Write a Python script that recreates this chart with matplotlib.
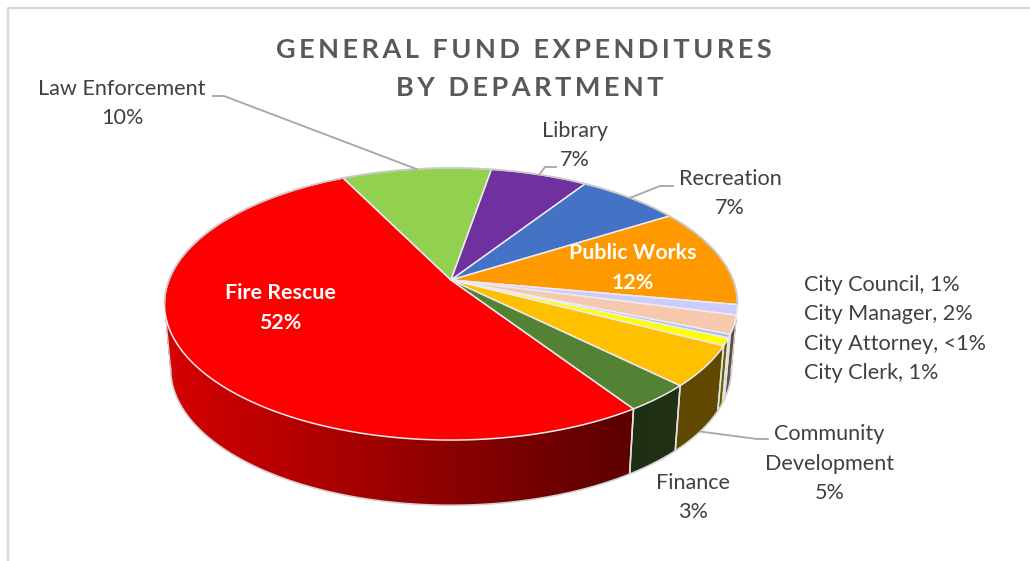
import numpy as np
import matplotlib
matplotlib.use("Agg")
import matplotlib.pyplot as plt
from matplotlib.patches import Polygon

plt.rcParams['font.family'] = ['Lato', 'DejaVu Sans']

# Department shares of general fund spending, in percent, clockwise from Fire Rescue
departments = ["Fire Rescue", "Law Enforcement", "Library", "Recreation", "Public Works",
               "City Council", "City Manager", "City Attorney", "City Clerk",
               "Community Development", "Finance"]
shares = [52.0, 10.0, 6.5, 6.9, 11.8, 1.2, 2.2, 0.4, 0.9, 4.8, 3.3]
share_labels = ["52%", "10%", "7%", "7%", "12%", "1%", "2%", "<1%", "1%", "5%", "3%"]
slice_colors = ["#FF0000", "#92D050", "#7030A0", "#4472C4", "#FF9900",
                "#CCCCFF", "#F6C9AE", "#9DC3E6", "#FFFF00", "#FFC000", "#548235"]

# Perspective model of the tilted disc, in pixels
CX, TOP_CY, BOT_CY = 451.0, 280.0, 345.0
TOP_A, TOP_B = 282.0, 131.8
BOT_A, BOT_B = 276.0, 132.0
TILT = 0.1765
START_DEG = 303.5
INK = "#404040"
LABEL_SIZE = 15.6


def rim(deg, a=TOP_A, b=TOP_B, cy=TOP_CY):
    t = np.radians(deg)
    w = 1 + TILT * np.sin(t)
    return CX + a * np.cos(t) / w, cy - b * np.sin(t) / w


def bottom_rim(deg):
    return rim(deg, BOT_A, BOT_B, BOT_CY)


def wall_shade(x):
    return np.interp(x, [170, 400, 630, 800], [0.83, 0.60, 0.36, 0.40])


fig = plt.figure(figsize=(10.3, 5.61), dpi=100)
ax = fig.add_axes([0, 0, 1, 1])
ax.set_xlim(0, 1030)
ax.set_ylim(561, 0)
ax.axis("off")

# Chart frame, whose right and bottom sides run off the canvas
ax.plot([7.5, 7.5, 1030], [561, 8, 8], color="#D9D9D9", lw=1.6, zorder=1)

# Slices advance clockwise, so the angle decreases from one edge to the next
edges = [float(e) for e in START_DEG - 360.0 * np.cumsum([0] + shares) / sum(shares)]

# Side wall: only the part facing the viewer, drawn as overlapping shaded strips
for color, a0, a1 in zip(slice_colors, edges[:-1], edges[1:]):
    base = np.array(matplotlib.colors.to_rgb(color))
    lo, hi = a1, a0
    if lo < 0:
        lo, hi = lo + 360, hi + 360
    lo, hi = max(lo, 185.0), min(hi, 355.0)
    if hi <= lo:
        continue
    steps = np.linspace(lo, hi, max(2, int((hi - lo) * 2) + 1))
    for s0, s1 in zip(steps[:-1], steps[1:]):
        s1x = min(s1 + 0.6, hi)
        x0, y0 = rim(s0)
        x1, y1 = rim(s1x)
        x3, y3 = bottom_rim(s0)
        x2, y2 = bottom_rim(s1x)
        shade = base * wall_shade((x0 + x1) / 2)
        ax.add_patch(Polygon([(x0, y0), (x1, y1), (x2, y2), (x3, y3)], closed=True,
                             facecolor=shade, edgecolor="none", zorder=2))
    for e in (lo, hi):
        if 192 < e < 345:
            x0, y0 = rim(e)
            x1, y1 = bottom_rim(e)
            ax.plot([x0, x1], [y0, y1], color="#E4E4E4", lw=1.1, zorder=3,
                    solid_capstyle="butt")

# Outer edge of the wall
wall_angles = np.linspace(190.2, 349.8, 200)
bx, by = bottom_rim(wall_angles)
ax.plot(bx, by, color="#D4D4D4", lw=1.2, zorder=3)
for deg in (190.2, 349.8):
    ax.plot(*zip(rim(deg), bottom_rim(deg)), color="#D4D4D4", lw=1.0, zorder=3)

# Top face of the pie
for color, a0, a1 in zip(slice_colors, edges[:-1], edges[1:]):
    ts = np.linspace(a0, a1, max(3, int(a0 - a1) * 2))
    xs, ys = rim(ts)
    pts = [(CX, TOP_CY)] + list(zip(xs, ys))
    ax.add_patch(Polygon(pts, closed=True, facecolor=color, edgecolor="#EDEAF2",
                         lw=1.1, joinstyle="round", zorder=4))

# Grey rim along the back of the disc
back = np.linspace(-10.2, 190.2, 300)
xs, ys = rim(back)
ax.plot(xs, ys, color="#C8C8C8", lw=1.2, zorder=5)

mid = {d: (a0 + a1) / 2 for d, a0, a1 in zip(departments, edges[:-1], edges[1:])}
pct = dict(zip(departments, share_labels))
LEADER = dict(color="#A6A6A6", lw=1.3, zorder=6, solid_joinstyle="miter")

# Leader lines, from the rim of each slice to its label
x, y = rim(mid["Law Enforcement"])
ax.plot([x, 224, 213], [y, 96, 96], **LEADER)
x, y = rim(mid["Library"])
ax.plot([x, 545, 556], [y, 167, 167], **LEADER)
x, y = rim(mid["Recreation"])
ax.plot([x, 660, 673], [y, 186, 186], **LEADER)
x, y = bottom_rim(mid["Community Development"])
ax.plot([x, 757, 768], [y, 439, 439], **LEADER)

LABEL = dict(color=INK, fontsize=LABEL_SIZE, ha="center", va="center", linespacing=1.58, zorder=7)
ax.text(122, 103.5, f"Law Enforcement\n{pct['Law Enforcement']}", **LABEL)
ax.text(575, 145.5, f"Library\n{pct['Library']}", **LABEL)
ax.text(730, 193.5, f"Recreation\n{pct['Recreation']}", **LABEL)
ax.text(693, 497.5, f"Finance\n{pct['Finance']}", **LABEL)
ax.text(829.5, 463.5, f"Community\nDevelopment\n{pct['Community Development']}", **LABEL)

for name, ypos in zip(["City Council", "City Manager", "City Attorney", "City Clerk"],
                      [285, 314, 344, 373]):
    ax.text(804, ypos, f"{name}, {pct[name]}", color=INK, fontsize=LABEL_SIZE,
            ha="left", va="center", zorder=7)

INSIDE = dict(color="white", fontsize=15.4, fontweight="bold", ha="center", va="center",
              linespacing=1.58, zorder=7)
ax.text(280, 308, f"Fire Rescue\n{pct['Fire Rescue']}", **INSIDE)
ax.text(633, 268, f"Public Works\n{pct['Public Works']}", **INSIDE)

# Title with wide letter spacing, built from hair spaces
HAIR = "\u200a"
def spaced(s):
    return (HAIR * 2).join(s)

ax.text(523.5, 50, spaced("GENERAL FUND EXPENDITURES"), color="#595959", fontsize=19.55,
        fontweight="bold", ha="center", va="center", zorder=7)
ax.text(529.5, 88, spaced("BY DEPARTMENT"), color="#595959", fontsize=19.55,
        fontweight="bold", ha="center", va="center", zorder=7)

fig.savefig("out.png", dpi=100)
